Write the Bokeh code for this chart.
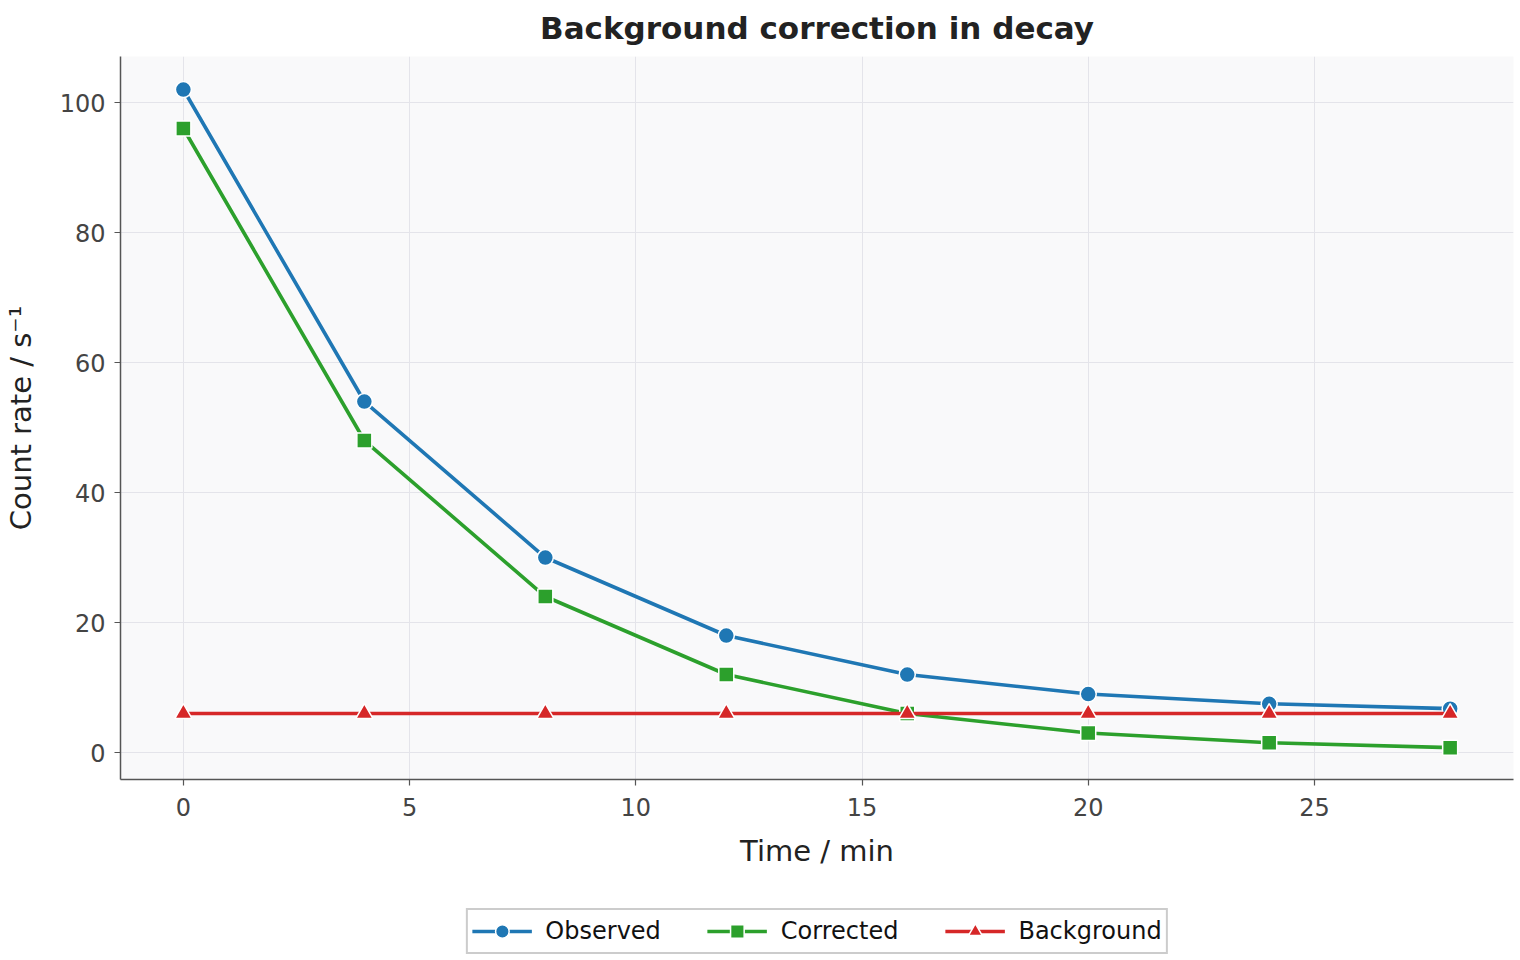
from bokeh.plotting import figure
from bokeh.models import Legend, LegendItem, FixedTicker, Range1d
from bokeh.layouts import column
from bokeh.embed import file_html
from bokeh.resources import INLINE

# Decay measurements
time_min = [0, 4, 8, 12, 16, 20, 24, 28]
observed = [102, 54, 30, 18, 12, 9, 7.5, 6.75]
corrected = [96, 48, 24, 12, 6, 3, 1.5, 0.75]
background = [6, 6, 6, 6, 6, 6, 6, 6]

x_ticks = [0, 5, 10, 15, 20, 25]
y_ticks = [0, 20, 40, 60, 80, 100]

FONT = "DejaVu Sans"

p = figure(
    width=1520, height=880,
    x_range=(-1.39, 29.4), y_range=(-4.15, 107.08),
    output_backend="svg", toolbar_location=None,
    min_border_left=119, min_border_right=7,
    min_border_top=56, min_border_bottom=101,
    background_fill_color="#f9f9fa",
    border_fill_color="white",
    title="Background correction in decay",
)
p.outline_line_color = None

p.title.text_font = FONT
p.title.text_font_size = "31px"
p.title.text_font_style = "bold"
p.title.text_color = "#222222"
p.title.align = "center"
p.title.vertical_align = "top"
p.title.text_line_height = 0.8
p.title.standoff = 18

for ax in (p.xaxis[0], p.yaxis[0]):
    ax.axis_line_color = "#555555"
    ax.axis_line_width = 1.5
    ax.major_tick_line_color = "#555555"
    ax.major_tick_line_width = 1.2
    ax.major_tick_out = 6
    ax.major_tick_in = 0
    ax.minor_tick_line_color = None
    ax.major_label_text_font = FONT
    ax.major_label_text_font_size = "24px"
    ax.major_label_text_color = "#444444"
    ax.axis_label_text_font = FONT
    ax.axis_label_text_font_size = "29px"
    ax.axis_label_text_font_style = "normal"
    ax.axis_label_text_color = "#222222"

p.xaxis.ticker = FixedTicker(ticks=x_ticks)
p.yaxis.ticker = FixedTicker(ticks=y_ticks)
p.xaxis.axis_label = "Time / min"
p.yaxis.axis_label = "Count rate / s⁻¹"
p.xaxis.major_label_standoff = 12
p.xaxis.axis_label_standoff = 15
p.yaxis.major_label_standoff = 9
p.yaxis.axis_label_standoff = 19

p.grid.grid_line_color = "#e4e4ea"
p.grid.grid_line_width = 1

series = [
    ("Observed", observed, "#1f77b4", "circle", 16),
    ("Corrected", corrected, "#2ca02c", "square", 15),
    ("Background", background, "#d62728", "triangle", 17),
]

for name, ys, color, marker, size in series:
    p.line(time_min, ys, line_color=color, line_width=3.6)
    p.scatter(time_min, ys, marker=marker, size=size,
              fill_color=color, line_color="white", line_width=1.5)

# Legend strip underneath the chart, sharing the chart's horizontal frame.
# Its ranges exclude the data so only the legend swatches show.
leg_fig = figure(
    width=1520, height=80,
    x_range=Range1d(-20, -19), y_range=Range1d(-20, -19),
    output_backend="svg", toolbar_location=None,
    x_axis_location=None, y_axis_location=None,
    min_border_left=119, min_border_right=7,
    min_border_top=22, min_border_bottom=0,
    background_fill_color="white", border_fill_color="white",
)
leg_fig.outline_line_color = None
leg_fig.grid.visible = False

items = []
for name, ys, color, marker, size in series:
    ln = leg_fig.line(time_min, ys, line_color=color, line_width=3.6)
    sc = leg_fig.scatter(time_min, ys, marker=marker, size=size,
                         fill_color=color, line_color="white", line_width=1.5)
    items.append(LegendItem(label=name, renderers=[ln, sc]))

legend = Legend(
    items=items, orientation="horizontal", location="center",
    label_text_font=FONT, label_text_font_size="24px", label_text_color="#111111",
    border_line_color="#cccccc", border_line_width=2, border_line_alpha=1,
    background_fill_color="white", background_fill_alpha=1,
    glyph_width=60, glyph_height=34, spacing=46, label_standoff=14,
    padding=4, margin=0,
)
leg_fig.add_layout(legend, "center")

layout = column(p, leg_fig, spacing=0)
open("out.html", "w").write(file_html(layout, INLINE))
